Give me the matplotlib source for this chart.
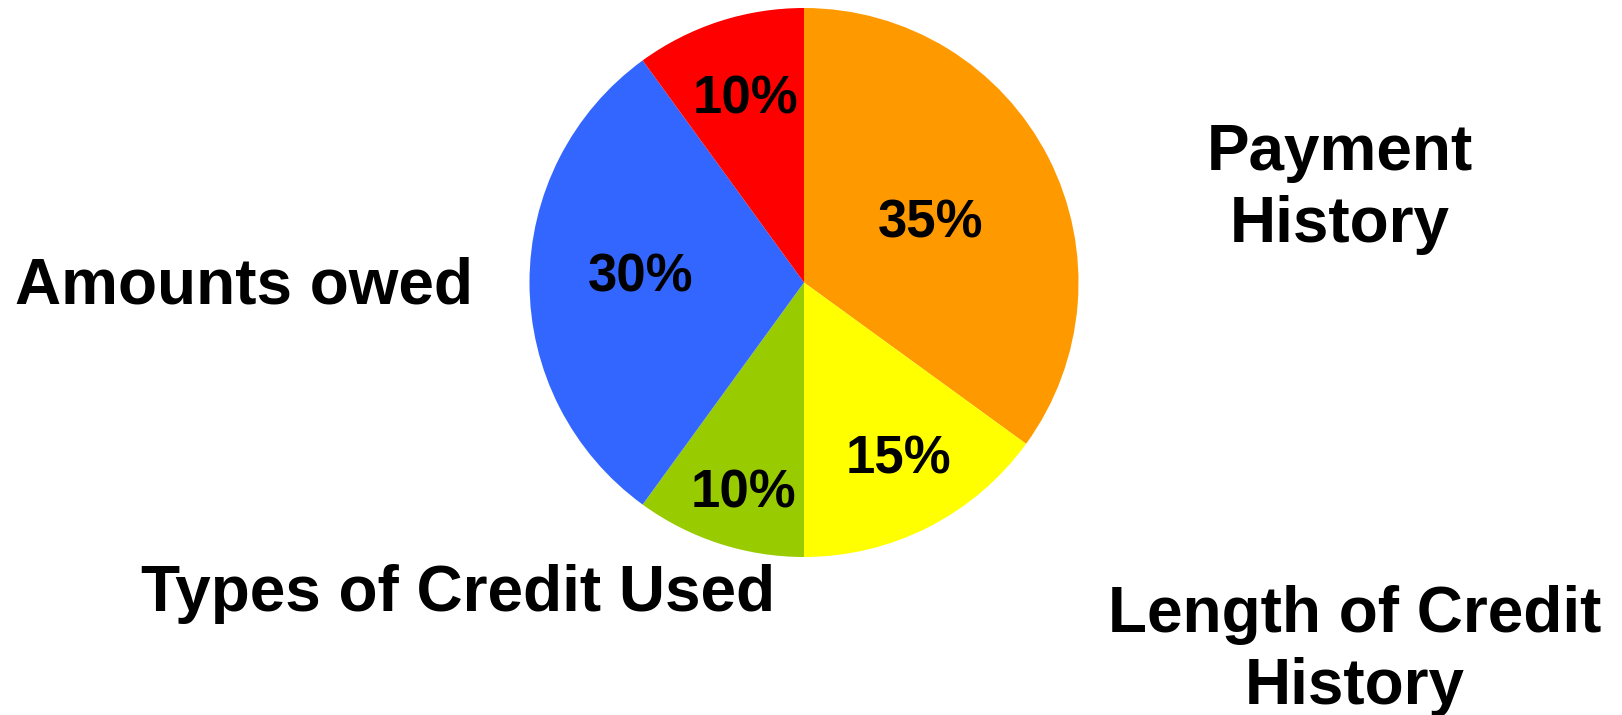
import matplotlib
matplotlib.use("Agg")
import matplotlib.pyplot as plt

plt.rcParams['font.family'] = ['Liberation Sans', 'DejaVu Sans']

# slices, clockwise from the top
shares = [35, 15, 10, 30, 10]
colors = ['#FF9900', '#FFFF00', '#99CC00', '#3366FF', '#FF0000']

# where each percentage sits (figure pixels, y from top)
pct_xy = [(931, 224), (898, 459), (743, 494), (641, 278), (745, 100)]

# category labels placed around the pie (figure pixels, y from top)
label_text = ['Payment\nHistory', 'Length of Credit\nHistory', 'Types of Credit Used', 'Amounts owed']
label_xy = [(1340, 189), (1355, 651), (458, 594), (244, 286)]

W, H = 1622, 715
fig = plt.figure(figsize=(W / 100, H / 100), dpi=100)
ax = fig.add_axes([0, 0, 1, 1])

cx, cy, R = 804, H - 282.5, 274.5
wedges, texts, autotexts = ax.pie(shares, colors=colors, startangle=90, counterclock=False,
                                  center=(cx, cy), radius=R, autopct='%d%%',
                                  wedgeprops=dict(linewidth=0),
                                  textprops=dict(fontsize=38, fontweight='bold', color='black'))
ax.set_xlim(0, W)
ax.set_ylim(0, H)
ax.set_aspect('equal')
ax.axis('off')

for t, (x, y) in zip(autotexts, pct_xy):
    t.set_position((x, H - y))

for txt, (x, y) in zip(label_text, label_xy):
    ax.text(x, H - y, txt, ha='center', va='center', fontsize=46, fontweight='bold',
            linespacing=1.27)

fig.savefig('out.png', dpi=100)
